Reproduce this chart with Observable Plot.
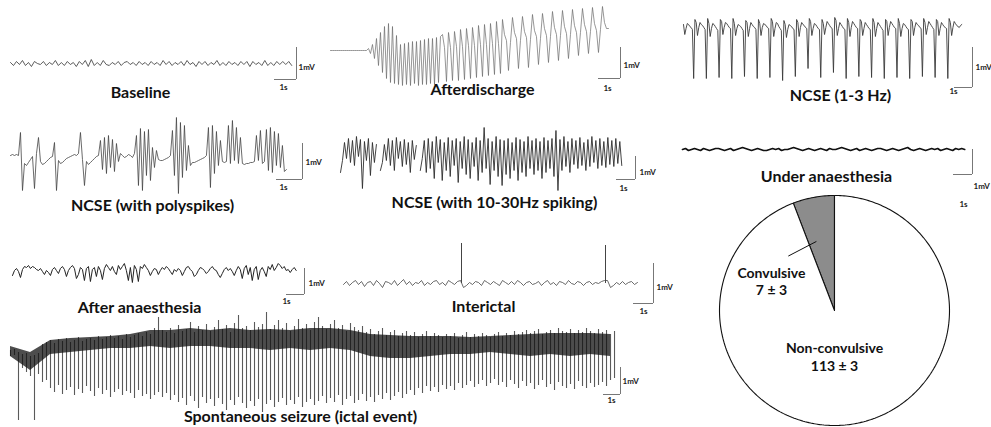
<!DOCTYPE html>
<html><head><meta charset="utf-8">
<script src="https://cdn.jsdelivr.net/npm/d3@7"></script>
<script src="https://cdn.jsdelivr.net/npm/@observablehq/plot@0.6"></script>
<style>
html,body{margin:0;padding:0;background:#fff;}
#fig{position:relative;width:991px;height:427px;overflow:hidden;background:#fff;}
#fig svg{position:absolute;left:0;top:0;}
</style></head><body><div id="fig"></div>
<script>
// ================= DATA =================
const panelTitles = ["Baseline","Afterdischarge","NCSE (1-3 Hz)","NCSE (with polyspikes)","NCSE (with 10-30Hz spiking)","Under anaesthesia","After anaesthesia","Interictal","Spontaneous seizure (ictal event)"];
const scaleLabels = ["1mV","1s"];

// EEG traces in recording counts (see gain = counts per mV); sample interval dt in seconds
const baseline = [1,-2,2,-1,3,-2,1,-3,2,0,-1,2,-2,1,-1,3,-2,1,-2,2,-1,1,-3,2,-1,3,-3,4,-2,1,-2,3,-1,-2,1,-1,2,-2,1,2,-1,1,-2,2,-1,1,-2,2,-1,1,-2,3,-1,2,-2,1,-1,2,-2,3,-1,1,-3,2,-1,2,-2,1,-1,3,-2,1,-2,2,-1,1,-2,2,-1,2,-3,2,-1,1,-2,3,-2,1,-2,2,-1,2,-1,2,-2];

const afterdischarge = [0,0,0,0,0,0,0,0,0,0,0,0,0,0,0,0,0,0,0,
 2,-3,6,-8,12,-15,18,-22,24,-28,27,-32,24,-33,15,-34,
 6,-35,7,-34,8,-35,9,-33,9,-35,10,-34,11,-34,12,-33,12,-34,13,-32,14,
 16,3,-31,18,3,-30,19,4,-30,21,4,-29,22,5,-28,23,5,-27,25,6,-26,26,6,-25,27,7,-24,29,7,-23,
 31,16,10,-20,8,33,18,12,-18,10,34,19,13,-17,11,36,20,14,-14,12,37,22,15,-12,14,39,23,16,-10,15,40,24,17,-8,16,41,25,18,-5,18,42,26,19,-3,19,43,27,20,-2,21,
 44,28,22,22];

const ncse13 = [6,-4,2,7,6,4,3,1,-48,11, 8,-5,3,8,6,5,3,1,-48,12, 7,-6,2,7,6,4,2,0,-47,11, 9,-4,3,8,7,5,3,2,-48,12,
 7,-5,2,6,5,4,2,0,-46,10, 8,-6,2,8,6,4,3,1,-48,11, 7,-5,3,7,6,5,3,2,-47,12, 9,-6,2,8,7,4,2,0,-50,10,
 6,-7,1,6,5,4,2,1,-46,11, 8,-6,3,8,6,5,3,2,-38,12, 9,-5,2,7,6,4,2,1,-47,11, 7,-4,3,9,7,5,3,2,-42,13,
 10,-5,2,8,6,4,2,1,-48,12, 8,-6,3,9,7,5,3,2,-46,11, 9,-5,2,8,6,4,2,1,-47,12, 8,-6,2,8,6,4,2,0,-48,11,
 9,-5,3,9,7,5,3,2,-47,12, 7,-6,2,7,6,4,2,1,-48,11, 9,-5,3,8,6,5,3,2,-46,12, 8,-4,3,9,7,5,3,1,-47,11,
 9,-5,2,8,6,4,3,2,-48,12, 8,-5,3,9,7,5,4,3,5,6];

const polyspikes = [0,1,0,1,0,23,-35,-8,-10,-7,-4,-1,-33,2,18,-6,-9,-8,-6,-4,
 -2,-1,13,-35,-5,-8,-7,-5,-3,-2,-1,0,1,0,2,23,-4,-30,-6,-9,
 -7,-5,-3,-1,0,15,-14,18,-18,20,-12,16,-16,12,-6,2,0,-2,-1,1,
 0,-2,2,20,-30,27,-35,24,-20,26,-25,8,-12,5,-4,-5,-5,-4,-3,-2,
 0,25,-20,38,-38,33,-22,30,-15,10,-10,-7,-7,-6,-5,-4,-3,-2,0,28,
 -32,30,-18,24,-10,15,-6,-7,-6,30,-8,35,-5,28,-8,18,-8,-9,-8,-8,
 -7,-7,-6,20,-5,25,-8,-6,26,-15,28,-17,24,-10,22,-12,10,-16,-14];

const ncse1030 = [-22,-10,8,-8,12,-12,10,-15,14,-6,11,-38,9,-10,12,-25,8,-12,6,
 null,
 -20,-12,6,-10,12,-15,10,-20,13,-8,9,-16,11,-14,8,-22,10,-9,5,
 null,
 -20,-8,10,-22,12,-18,9,-28,14,-12,11,-30,8,-20,13,-26,10,-15,12,-32,9,-18,14,-24,11,-28,8,-16,13,-30,
 10,-22,23,-18,12,-34,9,-20,14,-26,11,-35,10,-24,12,-28,8,-20,13,-30,
 11,-22,9,-26,14,-18,10,-24,12,-20,9,-28,13,-22,10,-18,12,-26,20,-40,
 11,-20,14,-16,9,-22,12,-14,10,-18,13,-15,8,-20,11,-16,14,-12,10,-18,
 12,-15,9,-17,13,-14,10,-16,12,-13,9,-15];

const underAnaesthesia = [0,1,-1,0,1,0,-1,1,0,-1,0,1,1,0,-1,0,1,-1,0,1,2,1,0,-1,0,1,0,-1,-1,0,1,0,1,-1,0,0,1,2,1,0,-1,0,1,0,-1,0,1,0,-1,1,0,0,1,2,1,0,-1,0,1,-1,0,1,0,-1,0,1,1,0,-1,0,1,0,-1,0,1,2,0,-1,0,1,0,-1,0,1,0,1,-1,0,1,0,-1,1,0,1,0];

const afterAnaesthesia = [-3,2,4,1,-5,3,6,5,7,4,6,5,3,2,4,1,-2,2,0,-3,
 3,5,2,-1,4,6,3,-4,2,5,7,4,-6,-2,5,3,-8,4,6,-9,
 3,5,-4,6,2,-7,4,8,5,2,6,1,-2,7,3,6,9,2,-8,5,
 -10,7,3,-9,6,4,8,5,2,-3,1,4,3,-2,2,5,3,6,4,1,
 -2,3,1,4,2,-3,1,5,6,3,1,-4,-2,2,5,4,2,-1,1,4,
 6,3,2,-2,-5,-1,3,5,2,4,1,-3,2,6,3,-6,4,7,-2,5,
 -8,3,6,-7,2,5,1,-4,6,3,8,2,5,9,7,4,6,2,3,0,
 3,5,2];

// interictal background activity plus two isolated interictal spikes (time s, amplitude counts)
const interictal = [-1,2,-2,1,3,-1,2,-3,1,2,-2,3,0,-4,2,1,-1,3,-2,1,4,-1,2,-2,1,0,3,-2,1,-1,2,3,-1,1,-2,3,1,-1,2,
 3,
 -4,-2,1,-1,2,1,-2,3,1,-1,2,0,-2,3,1,-1,2,-1,3,1,-2,1,2,-1,0,2,-2,1,3,-1,1,-2,2,1,-1,3,0,-1,2,1,-2,1,2,-1,1,0,2,
 3,
 3,-4,-2,1,-1,2,-1,1,2,-1,1];
const interictalSpikeTimes = [5.9, 13.1];
const interictalSpikeAmps = [40, 38];

// spontaneous seizure: per-spike upper and lower extremes, and the dense dark core (coarser)
const seizureHi = [0,1,-2,-4,-3,-6,-5,-3,6,8, 10,7,11,9,12,8,10,13,9,11, 12,10,14,11,13,15,12,14,11,16,
 13,15,17,14,18,16,22,33,20,18, 22,17,25,19,21,28,18,24,20,26, 19,23,30,21,25,18,27,35,22,24,
 20,28,23,26,38,21,25,30,22,27, 19,24,31,22,26,20,28,33,24,21, 26,30,22,25,19,27,23,20,24,18,
 21,16,19,22,15,18,20,14,17,19, 15,18,13,16,19,14,17,15,13,16, 14,17,12,15,18,13,16,14,17,15,
 13,16,18,14,17,15,19,16,18,20, 17,19,21,16,18,20,17,22,19,18, 21,17,20,18,22,19,17,21,18,20,16,19];
const seizureLo = [-6,-5,-70,-18,-22,-26,-70,-24,-32,-30, -38,-42,-35,-44,-40,-37,-45,-39,-43,-36, -41,-46,-38,-44,-40,-47,-42,-39,-45,-41,
 -43,-48,-40,-46,-44,-49,-45,-42,-47,-43, -50,-45,-52,-48,-55,-46,-51,-58,-47,-53, -49,-56,-48,-54,-60,-50,-55,-47,-53,-58,
 -51,-56,-49,-62,-54,-50,-57,-52,-48,-55, -50,-54,-47,-57,-52,-49,-55,-51,-46,-53, -48,-52,-45,-55,-49,-46,-53,-50,-44,-51,
 -47,-52,-45,-49,-43,-50,-46,-42,-48,-44, -40,-45,-38,-43,-36,-41,-37,-42,-35,-39, -36,-40,-33,-38,-35,-31,-37,-34,-30,-36,
 -33,-29,-35,-32,-37,-30,-34,-38,-31,-36, -33,-39,-35,-30,-37,-34,-40,-32,-36,-38, -34,-39,-31,-36,-38,-33,-37,-35,-32,-36,-30,-28];
const seizureCoreHi = [4,-2,10,12,13,14,16,20,20,22,20,22,20,21,20,22,22,20,16,15,14,14,14,13,14,15,16,17,17,17,16];
const seizureCoreLo = [-6,-20,-4,-2,0,2,2,4,2,4,4,2,2,0,2,0,2,0,-6,-8,-8,-6,-4,-4,-2,-4,-6,-4,-6,-4,-6];

// pie: seizure type counts (mean ± error)
const pieCategories = ["Convulsive","Non-convulsive"];
const pieValues = [7,113];
const pieErrors = [3,3];

// ================= LAYOUT =================
const W = 991, H = 427;
const FONT = "Lato, 'Open Sans', sans-serif";
const fig = document.getElementById("fig");

const panels = [
 {title: panelTitles[0], values: baseline, dt: 0.136, gain: 32, x0: 10, y0: 63, pxs: 22, bar: [296,79], mvAt: [298,67], sAt: [283,87], titleAt: [140,97], stroke: "#333", sw: 0.8},
 {title: panelTitles[1], values: afterdischarge, dt: 0.0909, gain: 31, x0: 330, y0: 50, pxs: 22, bar: [620,78], mvAt: [623,65], sAt: [607,88], titleAt: [482,94], stroke: "#6a6a6a", sw: 0.7},
 {title: panelTitles[2], values: ncse13, dt: 0.0706, gain: 40, x0: 683, y0: 30, pxs: 18, bar: [972,87], mvAt: [975,67], sAt: [953,91], titleAt: [840,100], stroke: "#3a3a3a", sw: 0.9},
 {title: panelTitles[3], values: polyspikes, dt: 0.0769, gain: 36, x0: 10, y0: 155, pxs: 26, bar: [302,179], mvAt: [305,162], sAt: [283,187], titleAt: [152,210], stroke: "#444", sw: 0.8},
 {title: panelTitles[4], values: ncse1030, dt: 0.105, gain: 23, x0: 340, y0: 150, pxs: 19, bar: [635,179], mvAt: [639,172], sAt: [623,188], titleAt: [494,207], stroke: "#2e2e2e", sw: 0.9},
 {title: panelTitles[5], values: underAnaesthesia, dt: 0.158, gain: 25, x0: 682, y0: 149, pxs: 19, bar: [972,174], mvAt: [973,186], sAt: [963,204], titleAt: [826,181], stroke: "#111", sw: 1.7},
 {title: panelTitles[6], values: afterAnaesthesia, dt: 0.111, gain: 26, x0: 12, y0: 272, pxs: 18, bar: [304,294], mvAt: [308,283], sAt: [286,301], titleAt: [139,312], stroke: "#222", sw: 1},
 {title: panelTitles[7], values: interictal, dt: 0.15, gain: 40, x0: 343, y0: 283, pxs: 20, bar: [653,303], mvAt: [656,287], sAt: [643,311], titleAt: [483,311], stroke: "#444", sw: 0.8,
  events: interictalSpikeTimes.map((t, i) => ({t, amp: interictalSpikeAmps[i]}))}
];
const seizurePanel = {title: panelTitles[8], dt: 0.2353, coreDt: 1.1765, gain: 27, x0: 10, y0: 350, pxs: 17, bar: [620,394], mvAt: [622,381], sAt: [611,400], titleAt: [300,421]};

function panelPlot(p, traceMarks) {
  const X = px => (px - p.x0) / p.pxs;       // page x -> seconds
  const Y = py => (p.y0 - py) / p.gain;      // page y -> mV
  const bx = X(p.bar[0]), by = Y(p.bar[1]);
  const marks = [
    ...traceMarks,
    Plot.ruleX([{x: bx, y1: by, y2: by + 1}], {x: "x", y1: "y1", y2: "y2", stroke: "#777", strokeWidth: 1}),
    Plot.ruleY([{y: by, x1: bx - 1, x2: bx}], {y: "y", x1: "x1", x2: "x2", stroke: "#777", strokeWidth: 1}),
    Plot.text([{x: X(p.mvAt[0]), y: Y(p.mvAt[1]), s: scaleLabels[0]}], {x: "x", y: "y", text: "s", textAnchor: "start", fontSize: 8, fontWeight: "bold", fill: "#222"}),
    Plot.text([{x: X(p.sAt[0]), y: Y(p.sAt[1]), s: scaleLabels[1]}], {x: "x", y: "y", text: "s", textAnchor: "middle", fontSize: 8, fontWeight: "bold", fill: "#222"}),
    Plot.text([{x: X(p.titleAt[0]), y: Y(p.titleAt[1]), s: p.title}], {x: "x", y: "y", text: "s", textAnchor: "middle", lineAnchor: "bottom", fontSize: 16, fontWeight: "bold", fill: "#111"})
  ];
  const svg = Plot.plot({
    width: W, height: H, margin: 0,
    x: {type: "linear", domain: [0, 1], range: [p.x0, p.x0 + p.pxs], axis: null},
    y: {type: "linear", domain: [0, 1], range: [p.y0, p.y0 - p.gain], axis: null},
    style: {background: "transparent", overflow: "visible", fontFamily: FONT},
    marks
  });
  fig.appendChild(svg);
}

for (const p of panels) {
  const data = p.values.map((v, i) => ({t: i * p.dt, mv: v == null ? NaN : v / p.gain}));
  const tm = [Plot.line(data, {x: "t", y: "mv", stroke: p.stroke, strokeWidth: p.sw})];
  if (p.events) {
    tm.push(Plot.ruleX(p.events.map(e => ({t: e.t, a: e.amp / p.gain})), {x: "t", y1: 0, y2: "a", stroke: p.stroke, strokeWidth: 1}));
  }
  panelPlot(p, tm);
}

{
  const p = seizurePanel;
  const spikes = seizureHi.map((h, i) => ({t: i * p.dt, hi: h / p.gain, lo: seizureLo[i] / p.gain}));
  const core = seizureCoreHi.map((h, i) => ({t: i * p.coreDt, hi: h / p.gain, lo: seizureCoreLo[i] / p.gain}));
  panelPlot(p, [
    Plot.ruleX(spikes, {x: "t", y1: "lo", y2: "hi", stroke: "#5a5a5a", strokeWidth: 1.1}),
    Plot.areaY(core, {x: "t", y1: "lo", y2: "hi", fill: "#111", fillOpacity: 0.75})
  ]);
}

// ---- pie ----
{
  const cx = 834, cy = 310, R = 115;
  const fills = ["#8c8c8c", "#ffffff"];
  const labelPolar = [{r: 0.605, deg: -65}, {r: 0.4, deg: 180}];
  const leader = [{r: 0.62, deg: -40}, {r: 0.62, deg: -15}];
  const polar = (r, deg) => ({x: r * Math.sin(deg * Math.PI / 180), y: r * Math.cos(deg * Math.PI / 180)});
  const arcs = d3.pie().sort(null).startAngle(0).endAngle(-2 * Math.PI)(pieValues);
  const marks = [];
  arcs.forEach((a, k) => {
    const pts = [{x: 0, y: 0}];
    const n = Math.max(4, Math.ceil(Math.abs(a.endAngle - a.startAngle) * 60));
    for (let j = 0; j <= n; j++) {
      const ang = a.startAngle + (a.endAngle - a.startAngle) * j / n;
      pts.push({x: Math.sin(ang), y: Math.cos(ang)});
    }
    pts.push({x: 0, y: 0});
    marks.push(Plot.line(pts, {x: "x", y: "y", fill: fills[k], stroke: "#111", strokeWidth: 1.1, strokeLinejoin: "miter"}));
  });
  marks.push(Plot.line(leader.map(d => polar(d.r, d.deg)), {x: "x", y: "y", stroke: "#111", strokeWidth: 1}));
  const labels = pieCategories.map((c, k) => ({...polar(labelPolar[k].r, labelPolar[k].deg), s: `${c}\n${pieValues[k]} ± ${pieErrors[k]}`}));
  marks.push(Plot.text(labels, {x: "x", y: "y", text: "s", textAnchor: "middle", lineAnchor: "middle", lineHeight: 1.25, fontSize: 14, fontWeight: "bold", fill: "#111"}));
  const svg = Plot.plot({
    width: W, height: H, margin: 0,
    x: {type: "linear", domain: [-1, 1], range: [cx - R, cx + R], axis: null},
    y: {type: "linear", domain: [-1, 1], range: [cy + R, cy - R], axis: null},
    style: {background: "transparent", overflow: "visible", fontFamily: FONT},
    marks
  });
  fig.appendChild(svg);
}
</script></body></html>
